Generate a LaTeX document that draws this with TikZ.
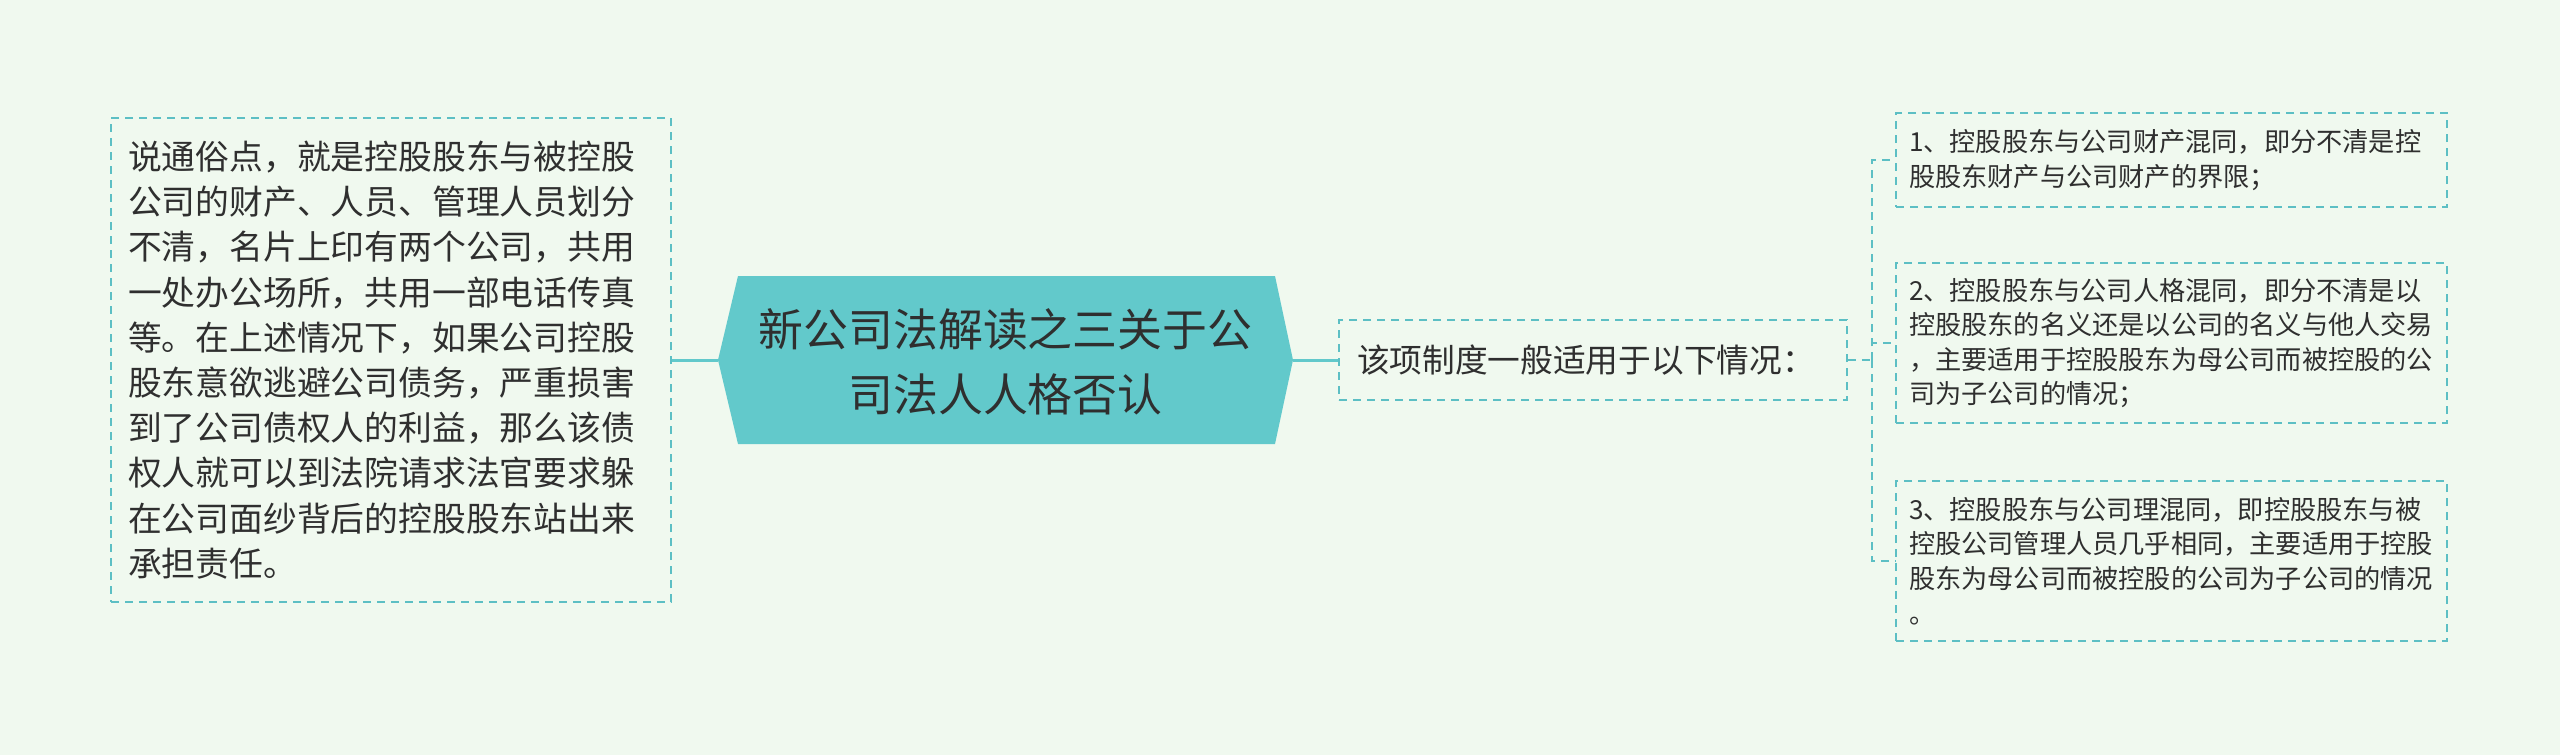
\documentclass[tikz,border=0pt]{standalone}
\usepackage{fontspec}
\setmainfont{Noto Sans CJK SC}
\definecolor{bgc}{HTML}{F0F9EF}
\definecolor{teal}{HTML}{62C9CB}
\definecolor{bord}{HTML}{5DBFC4}
\definecolor{txt}{HTML}{2F2F2F}
\tikzset{
  dbox/.style={draw=bord, line width=1.6pt, dash pattern=on 8pt off 6pt, text=txt, align=left, anchor=center, inner ysep=0pt},
  solidconn/.style={draw=teal, line width=3pt},
  dconn/.style={draw=bord, line width=1.6pt, dash pattern=on 8pt off 6pt},
}
\begin{document}
\begin{tikzpicture}[x=1pt,y=-1pt]
\fill[bgc] (0,0) rectangle (2560,755);
\useasboundingbox (0,0) rectangle (2560,755);
% left box
\node[dbox, minimum width=560pt, minimum height=484pt, inner xsep=17pt, text width=526pt,
  font=\fontsize{33.8}{45.2}\selectfont] (left) at (391,360)
  {说通俗点，就是控股股东与被控股\\公司的财产、人员、管理人员划分\\不清，名片上印有两个公司，共用\\一处办公场所，共用一部电话传真\\等。在上述情况下，如果公司控股\\股东意欲逃避公司债务，严重损害\\到了公司债权人的利益，那么该债\\权人就可以到法院请求法官要求躲\\在公司面纱背后的控股股东站出来\\承担责任。};
% center hexagon
\coordinate (hL) at (718,360);
\coordinate (hR) at (1293,360);
\fill[teal] (hL) -- (738,276) -- (1275,276) -- (hR) -- (1275,444) -- (738,444) -- cycle;
\node[text=txt, align=center, font=\fontsize{44.9}{65}\selectfont] (center) at (1005.5,362)
  {新公司法解读之三关于公\\司法人人格否认};
% mid box
\node[dbox, minimum width=508pt, minimum height=80pt, inner xsep=18pt, text width=472pt,
  font=\fontsize{32.7}{40}\selectfont] (mid) at (1593,360)
  {该项制度一般适用于以下情况：};
% right boxes
\tikzset{rbox/.style={dbox, minimum width=551pt, inner xsep=13pt, text width=525pt,
  font=\fontsize{26.2}{34.6}\selectfont}}
\node[rbox, minimum height=94pt] (b1) at (2171.5,160)
  {1、控股股东与公司财产混同，即分不清是控\\股股东财产与公司财产的界限；};
\node[rbox, minimum height=160pt] (b2) at (2171.5,343)
  {2、控股股东与公司人格混同，即分不清是以\\控股股东的名义还是以公司的名义与他人交易\\，主要适用于控股股东为母公司而被控股的公\\司为子公司的情况；};
\node[rbox, minimum height=160pt] (b3) at (2171.5,561)
  {3、控股股东与公司理混同，即控股股东与被\\控股公司管理人员几乎相同，主要适用于控股\\股东为母公司而被控股的公司为子公司的情况\\。};
% connectors
\draw[solidconn] (left.east) -- (hL);
\draw[solidconn] (hR) -- (mid.west);
\coordinate (bx) at (1872,360);
\draw[dconn] (mid.east) -- (bx);
\draw[dconn] (bx) |- (b1.west);
\draw[dconn] (bx) |- (b2.west);
\draw[dconn] (bx) |- (b3.west);
\end{tikzpicture}
\end{document}
